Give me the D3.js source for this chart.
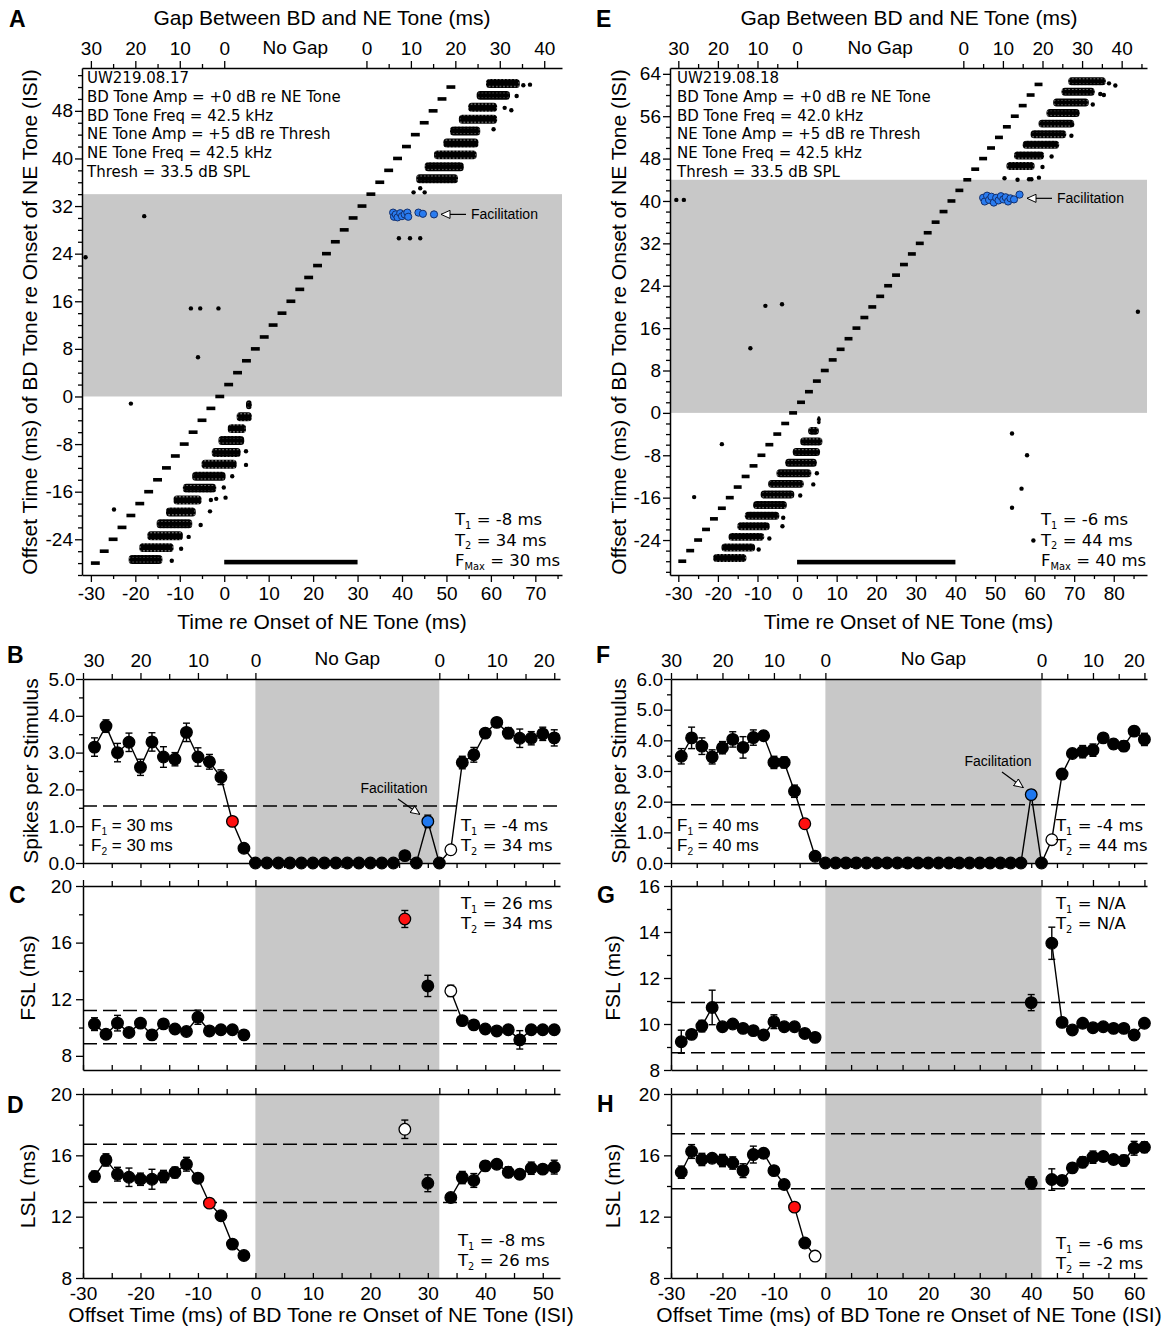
<!DOCTYPE html>
<html><head><meta charset="utf-8">
<script src="https://cdn.jsdelivr.net/npm/d3@7"></script>
<style>body{margin:0;background:#fff}</style>
</head><body>
<script>
// ===================== DATA =====================
// --- Raster A ---
const rowsA = [-28,-26,-24,-22,-20,-18,-16,-14,-12,-10,-8,-6,-4,-2,0,2,4,6,8,10,12,14,16,18,20,22,24,26,28,30,32,34,36,38,40,42,44,46,48,50,52];
const clustersA = [[-28,-21.5,-13.9],[-26,-19.1,-11.4],[-24,-17.3,-9.3],[-22,-15.2,-7.2],[-20,-13.1,-6.4],[-18,-11.4,-5.1],[-16,-9.3,-1.8],[-14,-7.2,0.3],[-12,-5.1,2.8],[-10,-2.8,3.7],[-8,-1.3,4.5],[-6,0.8,4.9],[-4,2.8,6.2],[-2,4.9,6.2],[36,43.2,52.6],[38,45.1,53.9],[40,47.2,56.8],[42,49.3,57.2],[44,50.8,57.6],[46,52.8,61.4],[48,54.9,61.4],[50,56.8,64.3],[52,58.9,66.5]];
const outliersA = [[-21.0,-1.2],[-24.8,-19.0],[-5.9,6.6],[-11.8,-27.6],[-9.7,-25.6],[-8.0,-23.6],[-5.3,-21.6],[-3.2,-19.3],[-3.0,-17.4],[-1.8,-17.2],[0.3,-17.0],[-0.1,-15.3],[1.8,-13.4],[4.9,-11.5],[4.9,-9.2],[-18.0,30.3],[-31.2,23.4],[-7.5,14.8],[-5.4,14.8],[-1.3,14.8],[39.3,26.6],[41.8,26.6],[44.1,26.6],[42.6,34.3],[44.1,35.0],[45.1,34.3],[60.6,44.9],[63.1,48.5],[64.6,48.1],[65.8,50.5],[67.3,52.3],[68.8,52.4]];
const facilA = [[38.0,30.9],[38.2,30.2],[38.6,30.6],[39.0,30.1],[39.6,30.8],[40.0,30.3],[40.6,30.6],[41.2,30.9],[41.4,30.2],[43.7,30.9],[44.7,30.7],[47.2,30.6]];
const infoA = ["UW219.08.17","BD Tone Amp = +0 dB re NE Tone","BD Tone Freq = 42.5 kHz","NE Tone Amp = +5 dB re Thresh","NE Tone Freq = 42.5 kHz","Thresh = 33.5 dB SPL"];
const tTextA = [["T","1"," = -8 ms"],["T","2"," = 34 ms"],["F","Max"," = 30 ms"]];
const grayTopA = 34, fmaxA = 30;

// --- Raster E ---
const rowsE = [-28,-26,-24,-22,-20,-18,-16,-14,-12,-10,-8,-6,-4,-2,0,2,4,6,8,10,12,14,16,18,20,22,24,26,28,30,32,34,36,38,40,42,44,46,48,50,52,54,56,58,60,62];
const clustersE = [[-28,-21.2,-12.8],[-26,-19.1,-10.6],[-24,-17.3,-8.3],[-22,-15.1,-6.9],[-20,-13.2,-4.5],[-18,-11.1,-2.6],[-16,-9.2,-0.7],[-14,-7.3,1.7],[-12,-5.2,3.6],[-10,-3.0,5.0],[-8,-1.1,5.8],[-6,0.8,6.4],[-4,2.8,5.5],[-2,5.0,6.0],[46,52.9,60.0],[48,54.8,62.4],[50,57.0,66.2],[52,59.0,68.0],[54,61.0,70.0],[56,63.0,71.4],[58,64.7,73.7],[60,66.8,75.2],[62,68.5,78.0]];
const outliersE = [[78.8,62.2],[80.4,61.8],[76.6,60.2],[77.5,60.0],[74.7,58.2],[69.5,54.4],[69.3,52.3],[64.3,48.4],[62.0,46.4],[52.4,44.3],[55.7,44.0],[58.6,44.1],[59.2,44.1],[61.1,44.4],[-30.5,40.2],[-28.6,40.2],[-8.0,20.2],[-3.8,20.5],[86.1,19.1],[-11.8,12.2],[-19.0,-5.9],[-26.0,-15.9],[54.3,-3.9],[58.1,-8.0],[56.7,-14.3],[54.3,-17.9],[59.7,-24.1],[-9.7,-25.8],[-7.0,-23.7],[-3.5,-19.8],[-3.7,-21.4],[0.8,-15.6],[4.1,-13.5],[5.0,-11.4]];
const facilE = [[47.0,40.6],[47.4,39.9],[48.0,41.0],[48.5,40.2],[49.1,40.8],[49.7,39.7],[50.3,40.6],[50.9,40.1],[51.5,40.9],[52.1,40.3],[52.7,40.7],[53.3,39.9],[53.9,40.5],[54.8,40.3],[56.2,41.2]];
const infoE = ["UW219.08.18","BD Tone Amp = +0 dB re NE Tone","BD Tone Freq = 42.0 kHz","NE Tone Amp = +5 dB re Thresh","NE Tone Freq = 42.5 kHz","Thresh = 33.5 dB SPL"];
const tTextE = [["T","1"," = -6 ms"],["T","2"," = 44 ms"],["F","Max"," = 40 ms"]];
const grayTopE = 44, fmaxE = 40;

// --- Gap (top) axis tick labels ---
const gapLabels = ["30","20","10","0","0","10","20","30","40"];
const gapLabelsShort = ["30","20","10","0","0","10","20"];

// --- Left column (B, C, D): ISI -28..52 ---
const isiL = [-28,-26,-24,-22,-20,-18,-16,-14,-12,-10,-8,-6,-4,-2,0,2,4,6,8,10,12,14,16,18,20,22,24,26,28,30,32,34,36,38,40,42,44,46,48,50,52];
const spikesB = [3.15,3.72,3.0,3.28,2.6,3.29,2.88,2.82,3.55,2.88,2.75,2.33,1.13,0.4,0,0,0,0,0,0,0,0,0,0,0,0,0,0.2,0,1.13,0,0.36,2.73,2.94,3.53,3.82,3.53,3.39,3.39,3.51,3.4];
const errB = [0.25,0.17,0.25,0.25,0.22,0.25,0.28,0.18,0.25,0.25,0.2,0.2,0.08,0.06,0,0,0,0,0,0,0,0,0,0,0,0,0,0.05,0,0.17,0,0.1,0.17,0.2,0.1,0.12,0.15,0.25,0.18,0.18,0.22];
const fslC = [10.24,9.53,10.31,9.65,10.31,9.48,10.26,9.9,9.72,10.73,9.76,9.84,9.84,9.48,null,null,null,null,null,null,null,null,null,null,null,null,null,17.67,null,12.94,null,12.59,10.49,10.19,9.9,9.76,9.84,9.13,9.84,9.84,9.84];
const errC = [0.45,0.2,0.55,0.2,0.3,0.2,0.3,0.25,0.2,0.5,0.2,0.2,0.2,0.2,0,0,0,0,0,0,0,0,0,0,0,0,0,0.6,0,0.75,0,0.4,0.25,0.2,0.2,0.2,0.2,0.65,0.2,0.2,0.2];
const lslD = [14.62,15.7,14.77,14.57,14.44,14.44,14.62,14.88,15.42,14.51,12.88,12.06,10.21,9.47,null,null,null,null,null,null,null,null,null,null,null,null,null,17.7,null,14.18,null,13.25,14.55,14.36,15.31,15.42,14.9,14.77,15.16,15.1,15.23];
const errD = [0.35,0.4,0.45,0.6,0.4,0.65,0.4,0.35,0.45,0.3,0.1,0.2,0.2,0.2,0,0,0,0,0,0,0,0,0,0,0,0,0,0.6,0,0.55,0,0.2,0.4,0.45,0.3,0.25,0.35,0.3,0.4,0.25,0.45];
const specialB = [["red",-4],["blue",30],["white",34]];
const specialC = [["red",26],["white",34]];
const specialD = [["red",-8],["white",26]];
const threshB = [1.55], threshC = [11.2,8.85], threshD = [16.72,12.93];

// --- Right column (F, G, H): ISI -28..62 ---
const isiR = [-28,-26,-24,-22,-20,-18,-16,-14,-12,-10,-8,-6,-4,-2,0,2,4,6,8,10,12,14,16,18,20,22,24,26,28,30,32,34,36,38,40,42,44,46,48,50,52,54,56,58,60,62];
const spikesF = [3.48,4.08,3.81,3.46,3.76,4.03,3.77,4.09,4.15,3.28,3.28,2.34,1.28,0.22,0,0,0,0,0,0,0,0,0,0,0,0,0,0,0,0,0,0,0,0,2.23,0,0.76,2.9,3.57,3.63,3.68,4.08,3.88,3.81,4.3,4.03];
const errF = [0.25,0.35,0.27,0.23,0.2,0.25,0.35,0.25,0.15,0.2,0.18,0.2,0.08,0.05,0,0,0,0,0,0,0,0,0,0,0,0,0,0,0,0,0,0,0,0,0.15,0,0.08,0.15,0.1,0.2,0.2,0.12,0.15,0.17,0.15,0.2];
const fslG = [9.23,9.55,9.91,10.72,9.88,10.0,9.81,9.71,9.52,10.1,9.88,9.88,9.59,9.42,null,null,null,null,null,null,null,null,null,null,null,null,null,null,null,null,null,null,null,null,10.93,null,13.51,10.07,9.74,10.03,9.84,9.88,9.81,9.81,9.52,10.03];
const errG = [0.5,0.15,0.25,0.75,0.15,0.15,0.15,0.15,0.15,0.3,0.15,0.15,0.15,0.15,0,0,0,0,0,0,0,0,0,0,0,0,0,0,0,0,0,0,0,0,0.35,0,0.7,0.15,0.15,0.15,0.15,0.15,0.15,0.15,0.15,0.15];
const lslH = [14.9,16.25,15.73,15.81,15.66,15.5,15.0,16.05,16.14,15.0,14.1,12.62,10.28,9.43,null,null,null,null,null,null,null,null,null,null,null,null,null,null,null,null,null,null,null,null,14.2,null,14.42,14.36,15.18,15.55,15.88,15.92,15.73,15.66,16.46,16.53];
const errH = [0.4,0.45,0.4,0.25,0.4,0.4,0.45,0.55,0.3,0.2,0.15,0.1,0.15,0.1,0,0,0,0,0,0,0,0,0,0,0,0,0,0,0,0,0,0,0,0,0.4,0,0.7,0.3,0.2,0.35,0.4,0.3,0.25,0.35,0.45,0.35];
const specialF = [["red",-4],["blue",40],["white",44]];
const specialG = [];
const specialH = [["red",-6],["white",-2]];
const threshF = [1.9], threshG = [10.93,8.75], threshH = [17.4,13.82];

// ===================== DRAWING =====================
const SANS = "'Liberation Sans', Arial, Helvetica, sans-serif";
const VERD = "'DejaVu Sans', Verdana, sans-serif";
const GRAY = "#c8c8c8";
const FILL = {red:"#ff1010", blue:"#1f78ef", white:"#ffffff"};
const fmtInt = d => String(d);

const svg = d3.select("body").append("svg").attr("width",1173).attr("height",1334)
  .attr("font-family", SANS);

const defs = svg.append("defs");
defs.append("marker").attr("id","openArrow").attr("viewBox","0 0 10 10")
  .attr("refX",10).attr("refY",5).attr("markerWidth",10).attr("markerHeight",9)
  .attr("markerUnits","userSpaceOnUse").attr("orient","auto")
  .append("path").attr("d","M0,0.5 L10,5 L0,9.5 Z").attr("fill","#fff").attr("stroke","#000").attr("stroke-width",1.1);
// dotted texture for dense spike clusters
const pat = defs.append("pattern").attr("id","spikeDots").attr("patternUnits","userSpaceOnUse")
  .attr("width",3.6).attr("height",3.6);
pat.append("circle").attr("cx",1.8).attr("cy",1.8).attr("r",1.95).attr("fill","#000");

function styleAxis(g, fs){
  g.attr("font-family", SANS).attr("font-size", fs);
  g.selectAll("path.domain").attr("stroke","#000").attr("stroke-width",1.5);
  g.selectAll(".tick line").attr("stroke","#000").attr("stroke-width",1.3);
  g.selectAll(".tick text").attr("fill","#000");
}
function addAxis(parent, gen, scale, ticks, size, pad, fmt, tr, fs, keepDomain){
  const ax = gen(scale).tickValues(ticks).tickSize(size).tickSizeOuter(0).tickPadding(pad).tickFormat(fmt);
  const g = parent.append("g").attr("transform", tr).call(ax);
  styleAxis(g, fs);
  if(!keepDomain) g.select("path.domain").remove();
  return g;
}
function subText(parent, x, y, parts, fam, fs, anchor){
  const t = parent.append("text").attr("x",x).attr("y",y).attr("font-family",fam)
    .attr("font-size",fs).attr("text-anchor",anchor||"start").attr("fill","#000");
  t.append("tspan").text(parts[0]);
  t.append("tspan").attr("font-size",fs*0.6).attr("dy",fs*0.22).text(parts[1]);
  t.append("tspan").attr("dy",-fs*0.22).text(parts[2]);
  return t;
}
function letter(x, y, s){
  svg.append("text").attr("x",x).attr("y",y).attr("font-family",SANS).attr("font-weight","bold")
    .attr("font-size",23).text(s);
}
function vTitle(x, y, s, fs){
  svg.append("text").attr("transform",`translate(${x},${y}) rotate(-90)`).attr("text-anchor","middle")
    .attr("font-family",SANS).attr("font-size",fs).text(s);
}
const noLab = () => "";

// ---------- Raster panel ----------
function raster(c){
  const g = svg.append("g");
  const x = d3.scaleLinear().domain(c.xDomain).range(c.xRange);
  const y = d3.scaleLinear().domain(c.yDomain).range(c.yRange);
  const [xl, xr] = c.xRange, [yb, yt] = c.yRange;
  g.append("rect").attr("x",xl).attr("y",y(c.grayTop)).attr("width",xr-xl)
    .attr("height",y(0)-y(c.grayTop)).attr("fill",GRAY);
  // BD tone offset markers
  g.selectAll("rect.dash").data(c.rows).join("rect").attr("class","dash")
    .attr("x",d=>x(d-2)).attr("width",d=>x(d)-x(d-2)).attr("y",d=>y(d)-1.8).attr("height",3.6).attr("fill","#000");
  // dense spike clusters
  g.selectAll("rect.cl").data(c.clusters).join("rect").attr("class","cl")
    .attr("x",d=>x(d[1])).attr("width",d=>x(d[2])-x(d[1]))
    .attr("y",d=>y(d[0]+1.35)).attr("height",d=>y(d[0]-0.15)-y(d[0]+1.35)).attr("rx",3.5).attr("fill","url(#spikeDots)");
  g.selectAll("rect.cl2").data(c.clusters).join("rect").attr("class","cl2")
    .attr("x",d=>x(d[1])+1.5).attr("width",d=>Math.max(0,x(d[2])-x(d[1])-3))
    .attr("y",d=>y(d[0]+0.95)).attr("height",d=>y(d[0]+0.25)-y(d[0]+0.95)).attr("fill","#000");
  g.selectAll("circle.out").data(c.outliers).join("circle").attr("class","out")
    .attr("cx",d=>x(d[0])).attr("cy",d=>y(d[1])).attr("r",2.2).attr("fill","#000");
  g.selectAll("circle.fac").data(c.facil).join("circle").attr("class","fac")
    .attr("cx",d=>x(d[0])).attr("cy",d=>y(d[1])).attr("r",3.6).attr("fill","#2a7cf0")
    .attr("stroke","#13306e").attr("stroke-width",1);
  // F max bar
  g.append("rect").attr("x",x(0)).attr("width",x(c.fmax)-x(0)).attr("y",559.8).attr("height",4.6).attr("fill","#000");
  // info text
  c.info.forEach((s,i)=>{
    g.append("text").attr("x",c.infoX).attr("y",83+i*18.8).attr("font-family",VERD).attr("font-size",15).text(s);
  });
  c.tText.forEach((p,i)=> subText(g, c.tX, 525+i*20.5, p, VERD, 16.5));
  // facilitation label
  const fy = y(c.facY);
  g.append("line").attr("x1",c.facX-5).attr("x2",c.facX-30).attr("y1",fy).attr("y2",fy)
    .attr("stroke","#000").attr("stroke-width",1.2).attr("marker-end","url(#openArrow)");
  g.append("text").attr("x",c.facX).attr("y",fy+5).attr("font-size",14).text("Facilitation");
  // axes
  addAxis(g, d3.axisLeft, y, c.yMinor, 4, 0, noLab, `translate(${xl},0)`, 18, false);
  addAxis(g, d3.axisLeft, y, c.yTicks, 7, 2, fmtInt, `translate(${xl},0)`, 19, true);
  addAxis(g, d3.axisBottom, x, c.xMinor, 4, 0, noLab, `translate(0,${yb})`, 18, false);
  addAxis(g, d3.axisBottom, x, c.xTicks, 7, 5, fmtInt, `translate(0,${yb})`, 19, true);
  addAxis(g, d3.axisTop, x, c.gapMinor, 4, 0, noLab, `translate(0,${yt})`, 18, false);
  addAxis(g, d3.axisTop, x, c.gapTicks, 7, 6, (d,i)=>gapLabels[i], `translate(0,${yt})`, 19, true);
  g.append("text").attr("x",x(c.gapEnd/2)).attr("y",yt-14).attr("text-anchor","middle").attr("font-size",19).text("No Gap");
  g.append("text").attr("x",(xl+xr)/2).attr("y",629).attr("text-anchor","middle").attr("font-size",21)
    .text("Time re Onset of NE Tone (ms)");
  g.append("text").attr("x",c.titleX).attr("y",25).attr("text-anchor","middle").attr("font-size",21)
    .text("Gap Between BD and NE Tone (ms)");
}

raster({xDomain:[-32,76], xRange:[82,562], yDomain:[-30,55.2], yRange:[575,68], grayTop:grayTopA, fmax:fmaxA,
  rows:rowsA, clusters:clustersA, outliers:outliersA, facil:facilA, info:infoA, infoX:87, tText:tTextA, tX:455,
  facX:471, facY:30.6, gapEnd:32, titleX:322,
  yTicks:[-24,-16,-8,0,8,16,24,32,40,48], yMinor:d3.range(-30,55,2).filter(v=>v%8!==0),
  xTicks:[-30,-20,-10,0,10,20,30,40,50,60,70], xMinor:[-25,-15,-5,5,15,25,35,45,55,65,75],
  gapTicks:[-30,-20,-10,0,32,42,52,62,72], gapMinor:[-25,-15,-5,37,47,57,67]});

raster({xDomain:[-32.1,88.4], xRange:[670,1147], yDomain:[-30.6,65.1], yRange:[575,68], grayTop:grayTopE, fmax:fmaxE,
  rows:rowsE, clusters:clustersE, outliers:outliersE, facil:facilE, info:infoE, infoX:677, tText:tTextE, tX:1041,
  facX:1057, facY:40.5, gapEnd:42, titleX:909,
  yTicks:[-24,-16,-8,0,8,16,24,32,40,48,56,64], yMinor:d3.range(-30,66,2).filter(v=>v%8!==0),
  xTicks:[-30,-20,-10,0,10,20,30,40,50,60,70,80], xMinor:[-25,-15,-5,5,15,25,35,45,55,65,75,85],
  gapTicks:[-30,-20,-10,0,42,52,62,72,82], gapMinor:[-25,-15,-5,47,57,67,77,87]});

letter(9,27,"A"); letter(596,27,"E");
vTitle(37, 322, "Offset Time (ms) of BD Tone re Onset of NE Tone (ISI)", 21);
vTitle(626, 322, "Offset Time (ms) of BD Tone re Onset of NE Tone (ISI)", 21);

// ---------- Curve panels ----------
function curve(c){
  const g = svg.append("g");
  const x = d3.scaleLinear().domain(c.xDomain).range(c.xRange);
  const y = d3.scaleLinear().domain(c.yDomain).range(c.yRange);
  const [xl, xr] = c.xRange, [yb, yt] = c.yRange;
  g.append("rect").attr("x",x(0)).attr("y",yt).attr("width",x(c.gapEnd)-x(0)).attr("height",yb-yt).attr("fill",GRAY);
  c.thresh.forEach(t=>{
    g.append("line").attr("x1",xl).attr("x2",xr).attr("y1",y(t)).attr("y2",y(t))
      .attr("stroke","#000").attr("stroke-width",1.5).attr("stroke-dasharray","14,6");
  });
  const pts = c.isi.map((s,i)=>({s, v:c.vals[i], e:c.errs[i]}));
  const line = d3.line().defined(d=>d.v!==null).x(d=>x(d.s)).y(d=>y(d.v));
  g.append("path").attr("d",line(pts)).attr("fill","none").attr("stroke","#000").attr("stroke-width",1.4);
  const eb = pts.filter(d=>d.v!==null && d.e>0);
  eb.forEach(d=>{
    const x0 = x(d.s), y1 = y(d.v-d.e), y2 = y(d.v+d.e);
    g.append("line").attr("x1",x0).attr("x2",x0).attr("y1",y1).attr("y2",y2).attr("stroke","#000").attr("stroke-width",1.4);
    [y1,y2].forEach(yy=>g.append("line").attr("x1",x0-3.5).attr("x2",x0+3.5).attr("y1",yy).attr("y2",yy).attr("stroke","#000").attr("stroke-width",1.4));
  });
  // axes (drawn before markers so markers sit on top)
  addAxis(g, d3.axisLeft, y, c.yMinor, 4, 0, noLab, `translate(${xl},0)`, 18, false);
  addAxis(g, d3.axisLeft, y, c.yTicks, 7, c.yPad, c.yFmt, `translate(${xl},0)`, 19, true);
  const bSize = c.bottomOut ? 5 : -5;
  addAxis(g, d3.axisBottom, x, c.xMinor, bSize, 0, noLab, `translate(0,${yb})`, 18, false);
  addAxis(g, d3.axisBottom, x, c.xTicks, bSize, 9, c.bottomLabels?fmtInt:noLab, `translate(0,${yb})`, 19, true);
  addAxis(g, d3.axisTop, x, c.gapMinor, 5, 0, noLab, `translate(0,${yt})`, 18, false);
  const tg = addAxis(g, d3.axisTop, x, c.gapTicks, 6, 6, c.topLabels?(d,i)=>gapLabelsShort[i]:noLab, `translate(0,${yt})`, 19, true);
  if(c.topLabels){
    const tt = tg.selectAll(".tick text");
    if(c.firstStart) tt.filter((d,i)=>i===0).attr("text-anchor","start");
    tt.filter((d,i)=>i===c.gapTicks.length-1).attr("text-anchor","end");
    g.append("text").attr("x",x(c.gapEnd/2)).attr("y",yt-14).attr("text-anchor","middle").attr("font-size",19).text("No Gap");
  }
  const spec = new Map(c.special.map(d=>[d[1],d[0]]));
  g.selectAll("circle.m").data(pts.filter(d=>d.v!==null)).join("circle").attr("class","m")
    .attr("cx",d=>x(d.s)).attr("cy",d=>y(d.v)).attr("r",5.8)
    .attr("fill",d=>spec.has(d.s)?FILL[spec.get(d.s)]:"#000").attr("stroke","#000").attr("stroke-width",1.3);
  return {g,x,y};
}

const leftX = {xDomain:[-30,53], xRange:[83,560], gapEnd:32, isi:isiL,
  xTicks:[-30,-20,-10,0,10,20,30,40,50], xMinor:[-25,-15,-5,5,15,25,35,45],
  gapTicks:[-30,-20,-10,0,32,42,52], gapMinor:[-25,-15,-5,37,47]};
const rightX = {xDomain:[-30,62.5], xRange:[671,1147], gapEnd:42, isi:isiR,
  xTicks:[-30,-20,-10,0,10,20,30,40,50,60], xMinor:[-25,-15,-5,5,15,25,35,45,55],
  gapTicks:[-30,-20,-10,0,42,52,62], gapMinor:[-25,-15,-5,47,57]};

// B
const pB = curve(Object.assign({}, leftX, {yDomain:[0,5], yRange:[863,679], vals:spikesB, errs:errB, special:specialB, thresh:threshB,
  yTicks:[0,1,2,3,4,5], yMinor:[0.5,1.5,2.5,3.5,4.5], yFmt:d3.format(".1f"), yPad:1, topLabels:true, firstStart:true, bottomOut:true}));
// C
const pC = curve(Object.assign({}, leftX, {yDomain:[7,20], yRange:[1070,886], vals:fslC, errs:errC, special:specialC, thresh:threshC,
  yTicks:[8,12,16,20], yMinor:[10,14,18], yFmt:fmtInt, yPad:4}));
// D
const pD = curve(Object.assign({}, leftX, {yDomain:[8,20], yRange:[1278,1094], vals:lslD, errs:errD, special:specialD, thresh:threshD,
  yTicks:[8,12,16,20], yMinor:[10,14,18], yFmt:fmtInt, yPad:4, bottomLabels:true}));
// F
const pF = curve(Object.assign({}, rightX, {yDomain:[0,6], yRange:[863,679], vals:spikesF, errs:errF, special:specialF, thresh:threshF,
  yTicks:[0,1,2,3,4,5,6], yMinor:[0.5,1.5,2.5,3.5,4.5,5.5], yFmt:d3.format(".1f"), yPad:1, topLabels:true, firstStart:false, bottomOut:true}));
// G
const pG = curve(Object.assign({}, rightX, {yDomain:[8,16], yRange:[1070,886], vals:fslG, errs:errG, special:specialG, thresh:threshG,
  yTicks:[8,10,12,14,16], yMinor:[9,11,13,15], yFmt:fmtInt, yPad:4}));
// H
const pH = curve(Object.assign({}, rightX, {yDomain:[8,20], yRange:[1278,1094], vals:lslH, errs:errH, special:specialH, thresh:threshH,
  yTicks:[8,12,16,20], yMinor:[10,14,18], yFmt:fmtInt, yPad:4, bottomLabels:true}));

// annotations
subText(svg, 91, 831, ["F","1"," = 30 ms"], SANS, 17);
subText(svg, 91, 851, ["F","2"," = 30 ms"], SANS, 17);
subText(svg, 461, 831, ["T","1"," = -4 ms"], VERD, 16.5);
subText(svg, 461, 851, ["T","2"," = 34 ms"], VERD, 16.5);
subText(svg, 677, 831, ["F","1"," = 40 ms"], SANS, 17);
subText(svg, 677, 851, ["F","2"," = 40 ms"], SANS, 17);
subText(svg, 1056, 831, ["T","1"," = -4 ms"], VERD, 16.5);
subText(svg, 1056, 851, ["T","2"," = 44 ms"], VERD, 16.5);
subText(svg, 461, 909, ["T","1"," = 26 ms"], VERD, 16.5);
subText(svg, 461, 929, ["T","2"," = 34 ms"], VERD, 16.5);
subText(svg, 1056, 909, ["T","1"," = N/A"], VERD, 16.5);
subText(svg, 1056, 929, ["T","2"," = N/A"], VERD, 16.5);
subText(svg, 458, 1246, ["T","1"," = -8 ms"], VERD, 16.5);
subText(svg, 458, 1266, ["T","2"," = 26 ms"], VERD, 16.5);
subText(svg, 1056, 1249, ["T","1"," = -6 ms"], VERD, 16.5);
subText(svg, 1056, 1269, ["T","2"," = -2 ms"], VERD, 16.5);

// facilitation arrows in B and F
function facArrow(p, s, v, tx, ty){
  const px = p.x(s), py = p.y(v);
  svg.append("text").attr("x",tx).attr("y",ty).attr("text-anchor","middle").attr("font-size",14).text("Facilitation");
  svg.append("line").attr("x1",tx+4).attr("y1",ty+6).attr("x2",px-8).attr("y2",py-7)
    .attr("stroke","#000").attr("stroke-width",1.2).attr("marker-end","url(#openArrow)");
}
facArrow(pB, 30, 1.13, 394, 793);
facArrow(pF, 40, 2.23, 998, 766);

// letters & titles
letter(7,663,"B"); letter(9,903,"C"); letter(7,1113,"D");
letter(596,663,"F"); letter(597,903,"G"); letter(597,1112,"H");
vTitle(38, 771, "Spikes per Stimulus", 21);
vTitle(35, 978, "FSL (ms)", 21);
vTitle(35, 1186, "LSL (ms)", 21);
vTitle(626, 771, "Spikes per Stimulus", 21);
vTitle(620, 978, "FSL (ms)", 21);
vTitle(620, 1186, "LSL (ms)", 21);
svg.append("text").attr("x",321).attr("y",1322).attr("text-anchor","middle").attr("font-size",21)
  .text("Offset Time (ms) of BD Tone re Onset of NE Tone (ISI)");
svg.append("text").attr("x",909).attr("y",1322).attr("text-anchor","middle").attr("font-size",21)
  .text("Offset Time (ms) of BD Tone re Onset of NE Tone (ISI)");
</script>
</body></html>
